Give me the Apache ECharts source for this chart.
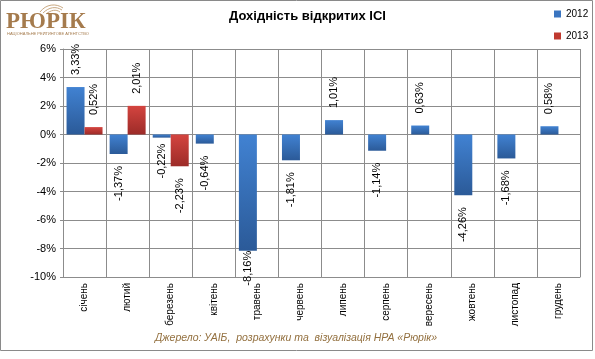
<!DOCTYPE html>
<html>
<head>
<meta charset="utf-8">
<script src="https://cdn.jsdelivr.net/npm/echarts@6/dist/echarts.min.js"></script>
<style>
html,body{margin:0;padding:0;background:#fff;}
#chart{width:595px;height:359px;}
</style>
</head>
<body>
<div id="chart"></div>
<script>
const months = ['січень','лютий','березень','квітень','травень','червень','липень','серпень','вересень','жовтень','листопад','грудень'];
const values2012 = [3.33, -1.37, -0.22, -0.64, -8.16, -1.81, 1.01, -1.14, 0.63, -4.26, -1.68, 0.58];
const values2013 = [0.52, 2.01, -2.23, null, null, null, null, null, null, null, null, null];
const yTicks = {min: -10, max: 6, interval: 2};
const seriesNames = ['2012', '2013'];
const titleText = 'Дохідність відкритих ІСІ';
const sourceText = 'Джерело: УАІБ,  розрахунки та  візуалізація НРА «Рюрік»';

const labelDistanceOverrides = {'2012-2': 6, '2012-4': 0};

function fmt(v){ return v.toFixed(2).replace('.', ',') + '%'; }

function buildData(vals, name){
  return vals.map((v, i) => {
    if (v === null) return '-';
    const neg = v < 0;
    const key = name + '-' + i;
    return {
      value: v,
      label: {
        show: true,
        position: neg ? 'bottom' : 'top',
        rotate: 90,
        align: neg ? 'right' : 'left',
        verticalAlign: 'middle',
        distance: (key in labelDistanceOverrides) ? labelDistanceOverrides[key] : 12,
        formatter: () => fmt(v),
        fontSize: 11,
        fontFamily: 'Liberation Sans, Arial, sans-serif',
        color: '#000'
      }
    };
  });
}

function grad(top, bottom){
  return {type: 'linear', x: 0, y: 0, x2: 0, y2: 1,
    colorStops: [{offset: 0, color: top}, {offset: 1, color: bottom}]};
}

const blueTop = '#4182d2', blueBot = '#2b5a98';
const redTop = '#d4443f', redBot = '#9c2b28';
const gridColor = '#8c8c8c';
const brown = '#a57b4d';

const chart = echarts.init(document.getElementById('chart'), null, {renderer: 'canvas'});
chart.setOption({
  animation: false,
  backgroundColor: '#fff',
  textStyle: {fontFamily: 'Liberation Sans, Arial, sans-serif'},
  title: {
    text: titleText,
    left: 224, top: 5,
    textStyle: {fontSize: 13, fontWeight: 'bold', color: '#000', fontFamily: 'Liberation Sans, Arial, sans-serif'}
  },
  legend: {
    orient: 'vertical',
    left: 549, top: 4,
    itemWidth: 7, itemHeight: 7, itemGap: 12,
    icon: 'rect',
    textStyle: {fontSize: 10, color: '#000'},
    data: [
      {name: seriesNames[0], itemStyle: {color: '#3a75c0'}},
      {name: seriesNames[1], itemStyle: {color: '#c0392f'}}
    ]
  },
  grid: {left: 63, right: 15, top: 49, bottom: 82, containLabel: false},
  xAxis: {
    type: 'category',
    data: months,
    boundaryGap: true,
    axisLine: {onZero: false, lineStyle: {color: gridColor}},
    axisTick: {show: false},
    splitLine: {show: true, interval: 0, lineStyle: {color: gridColor}},
    axisLabel: {interval: 0, rotate: 90, fontSize: 10, color: '#000', margin: 6}
  },
  yAxis: {
    type: 'value',
    min: yTicks.min, max: yTicks.max, interval: yTicks.interval,
    axisLine: {show: true, lineStyle: {color: gridColor}},
    axisTick: {show: true, length: 3, lineStyle: {color: gridColor}},
    splitLine: {show: true, lineStyle: {color: gridColor}},
    axisLabel: {formatter: '{value}%', fontSize: 11, color: '#000', margin: 7}
  },
  series: [
    {name: seriesNames[0], type: 'bar', barWidth: 18, barGap: '0%',
     itemStyle: {color: grad(blueTop, blueBot)},
     data: buildData(values2012, seriesNames[0])},
    {name: seriesNames[1], type: 'bar', barWidth: 18, barGap: '0%',
     itemStyle: {color: grad(redTop, redBot)},
     data: buildData(values2013, seriesNames[1])}
  ],
  graphic: [
    {type: 'rect', shape: {x: 0.5, y: 0.5, width: 592, height: 350},
     style: {fill: 'none', stroke: '#8a8a8a', lineWidth: 1}, silent: true, z: 100},
    {type: 'bezierCurve', shape: {x1: 40, y1: 12, cpx1: 46, cpy1: 4, cpx2: 56, cpy2: 3, x2: 63, y2: 8},
     style: {fill: 'none', stroke: '#c9a983', lineWidth: 1}, silent: true},
    {type: 'bezierCurve', shape: {x1: 43, y1: 13, cpx1: 49, cpy1: 7, cpx2: 56, cpy2: 6, x2: 62, y2: 10},
     style: {fill: 'none', stroke: '#c9a983', lineWidth: 1}, silent: true},
    {type: 'bezierCurve', shape: {x1: 46, y1: 14, cpx1: 51, cpy1: 10, cpx2: 56, cpy2: 9, x2: 60, y2: 12},
     style: {fill: 'none', stroke: '#c9a983', lineWidth: 1}, silent: true},
    {type: 'text', left: 6, top: 11,
     style: {text: 'РЮРІК', font: 'bold 23px "Liberation Serif", "DejaVu Serif", serif', fill: brown}},
    {type: 'text', left: 7, top: 32,
     style: {text: 'НАЦІОНАЛЬНЕ РЕЙТИНГОВЕ АГЕНТСТВО', font: '4px "Liberation Sans", Arial, sans-serif', fill: brown}},
    {type: 'text', x: 296, y: 338,
     style: {text: sourceText, font: 'italic 10.5px "Liberation Sans", Arial, sans-serif', fill: '#93703f', textAlign: 'center', textVerticalAlign: 'middle'}}
  ]
});
</script>
</body>
</html>
